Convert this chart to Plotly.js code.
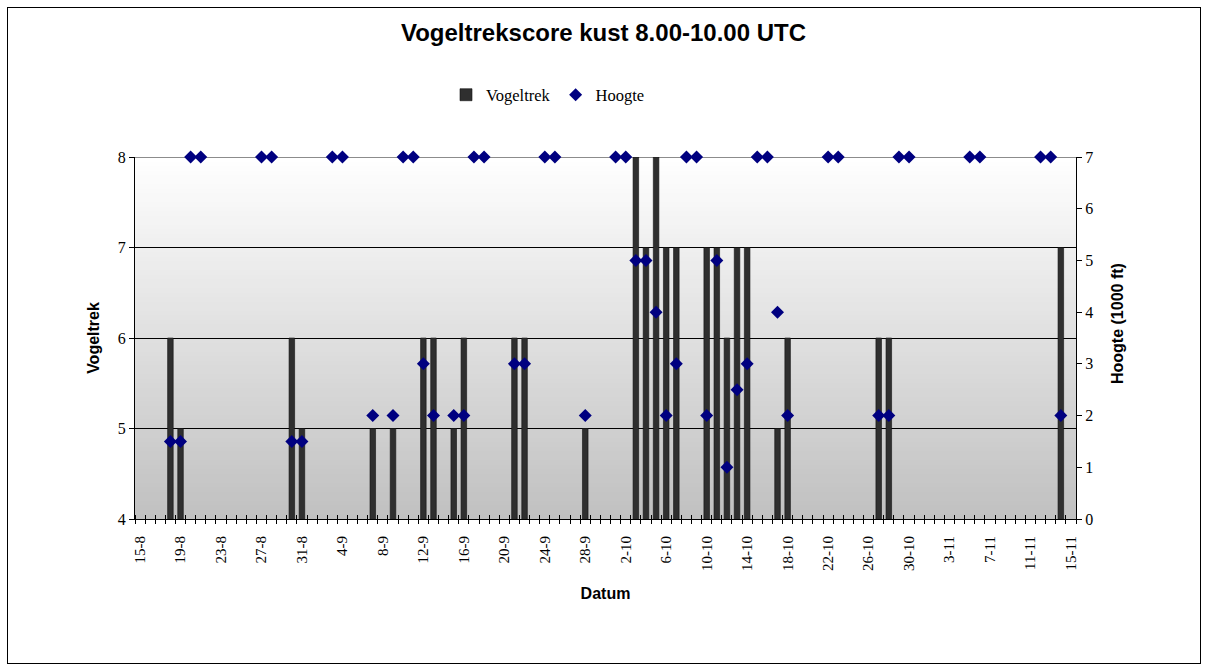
<!DOCTYPE html>
<html>
<head>
<meta charset="utf-8">
<script src="https://cdn.plot.ly/plotly-3.0.1.min.js"></script>
<style>
html,body{margin:0;padding:0;background:#fff;}
#chart{width:1207px;height:670px;}
#chart .shapelayer path{shape-rendering:crispEdges;}
</style>
</head>
<body>
<div id="chart"></div>
<script>
// ---- data ----
const year = 2011;
const tickLabels = ['15-8','19-8','23-8','27-8','31-8','4-9','8-9','12-9','16-9','20-9','24-9','28-9',
  '2-10','6-10','10-10','14-10','18-10','22-10','26-10','30-10','3-11','7-11','11-11','15-11'];

const vogeltrekDates = ['18-8','19-8','30-8','31-8','7-9','9-9','12-9','13-9','15-9','16-9','21-9','22-9','28-9',
  '3-10','4-10','5-10','6-10','7-10','10-10','11-10','12-10','13-10','14-10','17-10','18-10','27-10','28-10','14-11'];
const vogeltrekValues = [6,5,6,5,5,5,6,6,5,6,6,6,5,
  8,7,8,7,7,7,7,6,7,7,5,6,6,6,7];

const hoogteDates = ['18-8','19-8','20-8','21-8','27-8','28-8','30-8','31-8','3-9','4-9','7-9','9-9','10-9','11-9',
  '12-9','13-9','15-9','16-9','17-9','18-9','21-9','22-9','24-9','25-9','28-9','1-10','2-10','3-10','4-10','5-10',
  '6-10','7-10','8-10','9-10','10-10','11-10','12-10','13-10','14-10','15-10','16-10','17-10','18-10','22-10',
  '23-10','27-10','28-10','29-10','30-10','5-11','6-11','12-11','13-11','14-11'];
const hoogteValues = [1.5,1.5,7,7,7,7,1.5,1.5,7,7,2,2,7,7,
  3,2,2,2,7,7,3,3,7,7,2,7,7,5,5,4,
  2,3,7,7,2,5,1,2.5,3,7,7,4,2,7,
  7,2,2,7,7,7,7,7,7,2];

const leftTicks = [4,5,6,7,8];
const rightTicks = [0,1,2,3,4,5,6,7];

// ---- helpers ----
function toDate(s){
  const p = s.split('-');
  const d = p[0].padStart(2,'0'), m = p[1].padStart(2,'0');
  return year + '-' + m + '-' + d;
}
const DAY = 86400000;

const serif = 'Liberation Serif, Times New Roman, serif';
const sans = 'Liberation Sans, Arial, sans-serif';

const traces = [
  {
    type:'bar', name:'Vogeltrek',
    x: vogeltrekDates.map(toDate), y: vogeltrekValues,
    width: 0.55*DAY,
    marker:{color:'#2f2f2f', line:{color:'#111', width:0.6}},
    yaxis:'y', xaxis:'x'
  },
  {
    type:'scatter', mode:'markers', name:'Hoogte',
    x: hoogteDates.map(toDate), y: hoogteValues,
    marker:{symbol:'diamond', size:10, color:'#000080'},
    yaxis:'y2', xaxis:'x', cliponaxis:false
  }
];

// background gradient strips (white at top -> grey at bottom)
const shapes = [];
const N = 80;
for(let i=0;i<N;i++){
  const t = (i+0.5)/N; // 0 bottom .. 1 top
  const v = Math.round(192 + (255-192)*t);
  shapes.push({type:'rect', xref:'x domain', yref:'y domain', x0:0, x1:1, y0:i/N, y1:(i+1)/N,
    fillcolor:`rgb(${v},${v},${v})`, line:{width:0}, layer:'below'});
}
// horizontal gridlines (black) and grey top line
leftTicks.slice(1, -1).forEach(v => {
  shapes.push({type:'line', xref:'x domain', yref:'y', x0:0, x1:1, y0:v, y1:v, line:{color:'#000', width:1}, layer:'below'});
});
shapes.push({type:'line', xref:'x domain', yref:'y', x0:0, x1:1, y0:8, y1:8, line:{color:'#8c8c8c', width:1.2}, layer:'below'});
// outer chart border
const PW = 941, PH = 362, L = 135, T = 157;
shapes.push({type:'rect', xref:'paper', yref:'paper',
  x0:(7-L)/PW, x1:(1200-L)/PW, y0:(T+PH-663)/PH, y1:(T+PH-7)/PH,
  line:{color:'#000', width:1}, fillcolor:'rgba(0,0,0,0)', layer:'above'});

const xr = [toDate('14-8')+' 12:00', toDate('15-11')+' 12:00'];

const layout = {
  width:1207, height:670,
  margin:{l:L, r:131, t:T, b:151},
  paper_bgcolor:'#ffffff', plot_bgcolor:'rgba(0,0,0,0)',
  showlegend:true,
  title:{text:'<b>Vogeltrekscore kust 8.00-10.00 UTC</b>', font:{family:sans, size:24, color:'#000'},
    x:0.5, xref:'container', y:1-33/670, yref:'container', yanchor:'middle'},
  legend:{orientation:'h', x:(548-L)/PW, xanchor:'center', y:(T+PH-95)/PH, yanchor:'middle',
    font:{family:serif, size:16.5, color:'#000'}, itemwidth:30, bgcolor:'rgba(0,0,0,0)', traceorder:'normal'},
  bargap:0,
  xaxis:{
    type:'date', range:xr,
    tickvals: tickLabels.map(toDate), ticktext: tickLabels,
    tickangle:-90, ticks:'', ticklen:0, ticklabelstandoff:10,
    tickfont:{family:serif, size:15, color:'#000'},
    showgrid:false, zeroline:false,
    showline:true, linecolor:'#000', linewidth:1,
    minor:{ticks:'outside', dtick:DAY, tick0:toDate('14-8')+' 12:00', ticklen:4, tickcolor:'#000', tickwidth:1, showgrid:false},
    title:{text:'<b>Datum</b>', font:{family:sans, size:16, color:'#000'}, standoff:17}
  },
  xaxis2:{
    type:'date', range:xr, overlaying:'x', anchor:'y', side:'bottom',
    showticklabels:false, ticks:'', showgrid:false, zeroline:false, showline:false,
    minor:{ticks:'inside', dtick:DAY, tick0:toDate('14-8')+' 12:00', ticklen:4, tickcolor:'#000', tickwidth:1, showgrid:false}
  },
  yaxis:{
    range:[4,8], tickvals:leftTicks,
    ticks:'outside', ticklen:5, tickcolor:'#000',
    tickfont:{family:serif, size:16, color:'#000'},
    showgrid:false, zeroline:false,
    showline:true, linecolor:'#000', linewidth:1,
    title:{text:'<b>Vogeltrek</b>', font:{family:sans, size:16, color:'#000'}, standoff:14}
  },
  yaxis2:{
    range:[0,7], tickvals:rightTicks, overlaying:'y', side:'right', anchor:'x',
    ticks:'outside', ticklen:5, tickcolor:'#000',
    tickfont:{family:serif, size:16, color:'#000'},
    showgrid:false, zeroline:false,
    showline:true, linecolor:'#000', linewidth:1
  },
  annotations:[
    {text:'<b>Hoogte (1000 ft)</b>', xref:'paper', yref:'paper', x:(1117-L)/PW, y:(T+PH-324)/PH,
     xanchor:'center', yanchor:'middle', textangle:-90, showarrow:false,
     font:{family:sans, size:16, color:'#000'}}
  ],
  shapes:shapes
};

// invisible helper trace so the overlay axis (crossing tick marks) renders
traces.push({type:'scatter', x:xr, y:[4,4], xaxis:'x2', yaxis:'y', mode:'lines', line:{width:0}, showlegend:false, hoverinfo:'skip'});

Plotly.newPlot('chart', traces, layout, {displayModeBar:false, staticPlot:true});
</script>
</body>
</html>
